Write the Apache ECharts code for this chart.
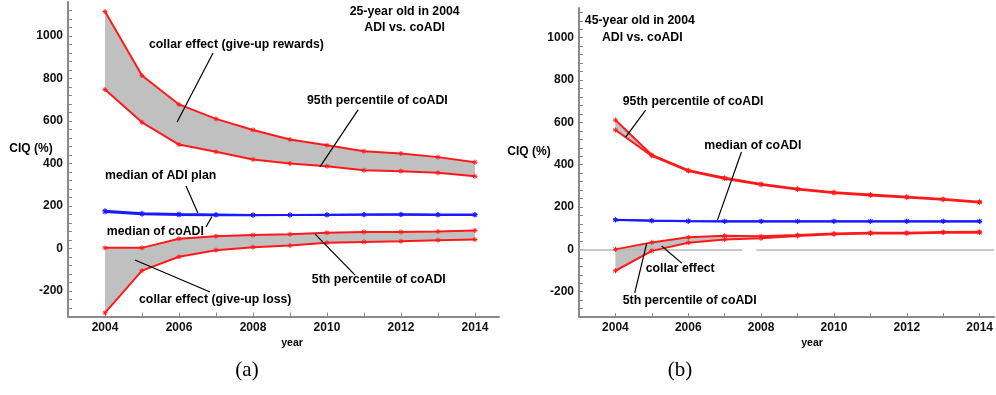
<!DOCTYPE html>
<html>
<head>
<meta charset="utf-8">
<script src="https://cdn.jsdelivr.net/npm/echarts@6/dist/echarts.min.js"></script>
<style>
  html, body { margin: 0; padding: 0; background: #fff; }
  #chart { width: 996px; height: 395px; }
</style>
</head>
<body>
<div id="chart"></div>
<script>
// ---- data ----------------------------------------------------------------
const years = [2004, 2005, 2006, 2007, 2008, 2009, 2010, 2011, 2012, 2013, 2014];
const xTickLabels = [2004, 2006, 2008, 2010, 2012, 2014];
const yTickLabels = [-200, 0, 200, 400, 600, 800, 1000];

// (a) 25-year old in 2004
const aRewardsHi = [1115, 814, 678, 610, 558, 513, 486, 458, 447, 430, 406];
const aRewardsLo = [748, 594, 489, 455, 419, 400, 387, 368, 364, 356, 340];
const aMedianADI = [178, 166, 162, 160, 158, 158, 158, 159, 159, 158, 158];
const aMedianCo  = [172, 161, 158, 157, 157, 158, 159, 160, 161, 160, 160];
const aLossHi    = [3, 3, 46, 58, 63, 67, 74, 78, 78, 80, 85];
const aLossLo    = [-303, -104, -39, -8, 6, 14, 27, 31, 34, 39, 42];

// (b) 45-year old in 2004
const bRewardsHi = [611, 446, 374, 338, 309, 286, 270, 259, 249, 238, 225];
const bRewardsLo = [564, 442, 370, 334, 305, 283, 266, 255, 245, 235, 222];
const bMedianADI = [140, 136, 134, 133, 133, 133, 133, 133, 133, 133, 133];
const bMedianCo  = [139, 135, 133, 132, 132, 132, 132, 132, 132, 132, 132];
const bLossHi    = [0, 33, 57, 64, 62, 68, 75, 79, 79, 82, 83];
const bLossLo    = [-101, -7, 31, 47, 52, 63, 71, 75, 75, 79, 79];

// annotation texts: [gridIndex, text, year, value, align]
const notes = [
  [0, '25-year old in 2004', 2012.1, 1113, 'center'],
  [0, 'ADI vs. coADI', 2012.1, 1040, 'center'],
  [0, 'collar effect (give-up rewards)', 2005.19, 958, 'left'],
  [0, '95th percentile of coADI', 2009.46, 694, 'left'],
  [0, 'median of ADI plan', 2004.0, 341, 'left'],
  [0, 'median of coADI', 2004.05, 78, 'left'],
  [0, '5th percentile of coADI', 2009.59, -148, 'left'],
  [0, 'collar effect (give-up loss)', 2004.92, -242, 'left'],
  [1, '45-year old in 2004', 2003.16, 1083, 'left'],
  [1, 'ADI vs. coADI', 2003.63, 1000, 'left'],
  [1, '95th percentile of coADI', 2004.2, 700, 'left'],
  [1, 'median of coADI', 2006.44, 488, 'left'],
  [1, 'collar effect', 2004.83, -93, 'left'],
  [1, '5th percentile of coADI', 2004.2, -240, 'left']
];
// leader lines: [gridIndex, year1, value1, year2, value2]
const leaders = [
  [0, 2006.92, 920, 2005.95, 595],
  [0, 2010.84, 652, 2009.81, 384],
  [0, 2006.19, 294, 2006.51, 167],
  [0, 2006.73, 101, 2006.89, 150],
  [0, 2010.76, -125, 2009.68, 68],
  [0, 2004.81, -54, 2006.84, -205],
  [1, 2004.83, 658, 2004.28, 530],
  [1, 2007.46, 460, 2006.80, 138],
  [1, 2005.82, -65, 2005.27, 16],
  [1, 2004.53, -206, 2004.86, 30]
];

// ---- styling --------------------------------------------------------------
const RED = '#ff1a1a';
const BLUE = '#1a1aff';
const FILL = '#c0c0c0';
const AXIS = '#8a8a8a';
const FONT = 'Liberation Sans';
const NOTE_FONT = 'bold 12.3px ' + FONT;
const STAR = 'path://M5,0L5,10M0,5L10,5M1.5,1.5L8.5,8.5M8.5,1.5L1.5,8.5';

function pairs(vals) { return years.map((y, i) => [y, vals[i]]); }

function lineSeries(idx, vals, color) {
  return {
    type: 'line', xAxisIndex: idx, yAxisIndex: idx, z: 5,
    data: pairs(vals),
    symbol: STAR, symbolSize: 5,
    itemStyle: { color: color, borderColor: color, borderWidth: 1 },
    lineStyle: { color: color, width: 2 },
    emphasis: { disabled: true }, silent: true
  };
}

function bandSeries(idx, hi, lo) {
  return {
    type: 'custom', xAxisIndex: idx, yAxisIndex: idx, z: 2, silent: true,
    data: [[years[0], hi[0]]],
    renderItem: function (params, api) {
      const pts = years.map((y, i) => api.coord([y, hi[i]]))
        .concat(years.map((y, i) => api.coord([y, lo[i]])).reverse());
      return { type: 'polygon', shape: { points: pts }, style: { fill: FILL } };
    }
  };
}

function zeroLine(idx, segments) {
  return {
    type: 'line', xAxisIndex: idx, yAxisIndex: idx, z: 1, data: [], silent: true,
    markLine: {
      silent: true, symbol: 'none', label: { show: false },
      lineStyle: { color: '#b8b8b8', width: 1.5, type: 'solid' },
      data: segments.map(s => [{ coord: [s[0], 0] }, { coord: [s[1], 0] }])
    }
  };
}

function xAxis(idx, max) {
  return {
    type: 'value', gridIndex: idx, min: 2003, max: max, interval: 1,
    splitLine: { show: false },
    axisLine: { onZero: false, lineStyle: { color: AXIS, width: 2 } },
    axisTick: { inside: true, length: 4, lineStyle: { color: AXIS, width: 1 } },
    axisLabel: {
      margin: 5, color: '#111', fontFamily: FONT, fontWeight: 'bold', fontSize: 12,
      showMaxLabel: false, showMinLabel: false,
      formatter: v => xTickLabels.includes(Math.round(v)) && Math.abs(v - Math.round(v)) < 1e-6 ? String(Math.round(v)) : ''
    }
  };
}

function yAxis(idx, max) {
  return {
    type: 'value', gridIndex: idx, min: -320, max: max, interval: 40,
    splitLine: { show: false },
    axisLine: { show: true, lineStyle: { color: AXIS, width: 2 } },
    axisTick: { show: true, inside: true, length: 4, lineStyle: { color: AXIS, width: 1 } },
    axisLabel: {
      margin: 5, color: '#111', fontFamily: FONT, fontWeight: 'bold', fontSize: 12,
      showMaxLabel: false, showMinLabel: false,
      formatter: v => yTickLabels.includes(v) ? String(v) : ''
    }
  };
}

const chart = echarts.init(document.getElementById('chart'), null, { renderer: 'canvas' });

chart.setOption({
  animation: false,
  backgroundColor: '#fff',
  grid: [
    { left: 68, top: 2, width: 431, height: 314.5 },
    { left: 579, top: 8.1, width: 417, height: 309 }
  ],
  xAxis: [xAxis(0, 2014.65), xAxis(1, 2014.4)],
  yAxis: [yAxis(0, 1160), yAxis(1, 1140)],
  series: [
    zeroLine(0, [[2003, 2014.7]]),
    zeroLine(1, [[2003, 2007.48], [2007.87, 2014.4]]),
    bandSeries(0, aRewardsHi, aRewardsLo),
    bandSeries(0, aLossHi, aLossLo),
    bandSeries(1, bRewardsHi, bRewardsLo),
    bandSeries(1, bLossHi, bLossLo),
    lineSeries(0, aRewardsHi, RED),
    lineSeries(0, aRewardsLo, RED),
    lineSeries(0, aLossHi, RED),
    lineSeries(0, aLossLo, RED),
    lineSeries(0, aMedianADI, BLUE),
    lineSeries(0, aMedianCo, BLUE),
    lineSeries(1, bRewardsHi, RED),
    lineSeries(1, bRewardsLo, RED),
    lineSeries(1, bLossHi, RED),
    lineSeries(1, bLossLo, RED),
    lineSeries(1, bMedianADI, BLUE),
    lineSeries(1, bMedianCo, BLUE)
  ]
});

// annotations placed in data coordinates of each panel
const graphics = [];
notes.forEach(n => {
  const p = chart.convertToPixel({ gridIndex: n[0] }, [n[2], n[3]]);
  graphics.push({
    type: 'text', x: p[0], y: p[1], z: 20, silent: true,
    style: { text: n[1], fill: '#000', font: NOTE_FONT, textAlign: n[4], textVerticalAlign: 'middle' }
  });
});
leaders.forEach(l => {
  const p1 = chart.convertToPixel({ gridIndex: l[0] }, [l[1], l[2]]);
  const p2 = chart.convertToPixel({ gridIndex: l[0] }, [l[3], l[4]]);
  graphics.push({
    type: 'line', z: 20, silent: true,
    shape: { x1: p1[0], y1: p1[1], x2: p2[0], y2: p2[1] },
    style: { stroke: '#000', lineWidth: 1.2 }
  });
});
// axis names and panel captions
const captions = [
  ['CIQ (%)', 31, 149, 'bold 12px ' + FONT],
  ['CIQ (%)', 529, 152, 'bold 12px ' + FONT],
  ['year', 292, 343, 'bold 10.5px ' + FONT],
  ['year', 812, 343, 'bold 10.5px ' + FONT],
  ['(a)', 247, 370, '21px "Liberation Serif"'],
  ['(b)', 680, 370, '21px "Liberation Serif"']
];
captions.forEach(c => {
  graphics.push({
    type: 'text', x: c[1], y: c[2], z: 20, silent: true,
    style: { text: c[0], fill: '#000', font: c[3], textAlign: 'center', textVerticalAlign: 'middle' }
  });
});
chart.setOption({ graphic: graphics });
</script>
</body>
</html>
